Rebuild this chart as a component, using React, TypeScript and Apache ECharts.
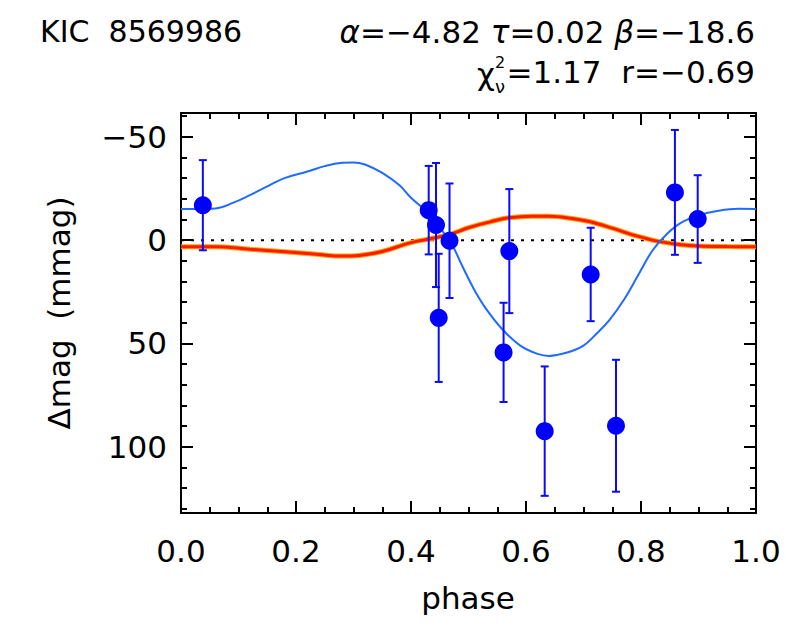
import React, { useEffect, useRef } from "react";
import * as echarts from "echarts";

// Observed points
const obsPhase = [0.038, 0.4308, 0.4435, 0.467, 0.4482, 0.571, 0.561, 0.6325, 0.7125, 0.7565, 0.859, 0.8986];
const obsMag = [-16.9, -14.5, -7.3, 0.3, 37.6, 5.3, 54.3, 92.4, 16.6, 89.8, -23.1, -10.2];
const obsErr = [21.8, 21.4, 30.0, 27.7, 31.0, 30.0, 24.0, 31.3, 22.6, 31.9, 30.2, 21.2];

// Blue model curve
const bluePhase = [0.0, 0.03, 0.06, 0.09, 0.12, 0.15, 0.18, 0.22, 0.25, 0.28, 0.3, 0.32, 0.35, 0.38, 0.4, 0.43, 0.45, 0.47, 0.49, 0.51, 0.53, 0.56, 0.59, 0.62, 0.64, 0.67, 0.7, 0.72, 0.745, 0.77, 0.795, 0.82, 0.845, 0.87, 0.9, 0.93, 0.97, 1.0];
const blueMag = [-15.0, -15.0, -15.3, -18.0, -21.8, -26.0, -30.0, -33.2, -35.8, -37.4, -37.6, -36.6, -32.5, -26.5, -20.5, -13.0, -6.0, 1.5, 13.0, 24.0, 33.0, 43.5, 51.0, 55.0, 56.0, 54.5, 51.0, 46.0, 38.7, 29.0, 17.0, 5.0, -3.0, -8.5, -12.0, -14.0, -15.2, -15.0];

// Red fitted curve
const redPhase = [0.0, 0.06, 0.12, 0.18, 0.24, 0.28, 0.31, 0.35, 0.4, 0.44, 0.47, 0.5, 0.54, 0.57, 0.61, 0.64, 0.68, 0.71, 0.75, 0.79, 0.83, 0.87, 0.9, 0.95, 1.0];
const redMag = [3.2, 3.2, 4.4, 5.6, 7.0, 7.7, 7.4, 5.5, 1.2, -1.0, -3.0, -6.0, -9.0, -10.8, -11.6, -11.6, -10.5, -9.0, -5.8, -2.2, 0.6, 2.2, 2.8, 3.1, 3.2];

const xTicks = [0, 0.2, 0.4, 0.6, 0.8, 1.0];
const yMajor = [-50, 0, 50, 100];
const yMinor = [-60, -40, -30, -20, -10, 10, 20, 30, 40, 60, 70, 80, 90, 110, 120, 130];

const FONT = "DejaVu Sans";
const Y_MIN = -61.5;
const Y_MAX = 132;

export default function App() {
  const ref = useRef<HTMLDivElement>(null);
  useEffect(() => {
    if (!ref.current) return;
    const chart = echarts.init(ref.current, undefined, { renderer: "svg" });
    const black = { color: "#000", width: 2 };
    const baseX = (pos: string, labels: boolean) => ({
      type: "value",
      position: pos,
      min: xTicks[0],
      max: xTicks[xTicks.length - 1],
      interval: 0.2,
      axisLine: { show: true, onZero: false, lineStyle: black },
      axisTick: { show: true, inside: true, length: 12, lineStyle: black },
      minorTick: { show: true, splitNumber: 4, length: 6, lineStyle: black },
      axisLabel: {
        show: labels,
        formatter: (v: number) => v.toFixed(1),
        fontSize: 31,
        fontFamily: FONT,
        color: "#000",
        margin: 22,
      },
      splitLine: { show: false },
      minorSplitLine: { show: false },
    });
    const baseY = (pos: string, labels: boolean, minor: boolean) => ({
      type: "value",
      position: pos,
      inverse: true,
      min: Y_MIN,
      max: Y_MAX,
      axisLine: { show: !minor, onZero: false, lineStyle: black },
      axisTick: {
        show: true,
        inside: true,
        length: minor ? 6 : 12,
        lineStyle: black,
        customValues: minor ? yMinor : yMajor,
      },
      axisLabel: {
        show: labels,
        customValues: yMajor,
        formatter: (v: number) => String(v).replace("-", "\u2212"),
        fontSize: 31,
        fontFamily: FONT,
        color: "#000",
        margin: 14,
      },
      splitLine: { show: false },
    });

    const errData = obsPhase.map((p, i) => [p, obsMag[i] - obsErr[i], obsMag[i] + obsErr[i]]);

    chart.setOption({
      animation: false,
      backgroundColor: "#fff",
      grid: { left: 181, right: 30, top: 113, bottom: 115 },
      xAxis: [baseX("bottom", true), baseX("top", false)],
      yAxis: [
        baseY("left", true, false),
        baseY("left", false, true),
        baseY("right", false, false),
        baseY("right", false, true),
      ],
      graphic: [
        {
          type: "text",
          x: 40,
          y: 31,
          style: { text: "KIC  8569986", fontSize: 30, fontFamily: FONT, fill: "#000", align: "left", verticalAlign: "middle" },
        },
        {
          type: "text",
          x: 755,
          y: 32,
          style: {
            text: "{i|\u03b1}=\u22124.82 {i|\u03c4}=0.02 {i|\u03b2}=\u221218.6",
            rich: { i: { fontStyle: "italic", fontSize: 31, fontFamily: FONT, fill: "#000" } },
            fontSize: 31,
            fontFamily: FONT,
            fill: "#000",
            align: "right",
            verticalAlign: "middle",
          },
        },
        {
          type: "text",
          x: 755,
          y: 72,
          style: { text: "=1.17  r=\u22120.69", fontSize: 31, fontFamily: FONT, fill: "#000", align: "right", verticalAlign: "middle" },
        },
        {
          type: "text",
          x: 495,
          y: 74,
          style: { text: "\u03c7", fontSize: 31, fontFamily: FONT, fill: "#000", align: "right", verticalAlign: "middle" },
        },
        {
          type: "text",
          x: 495,
          y: 62,
          style: { text: "2", fontSize: 16, fontFamily: FONT, fill: "#000", align: "left", verticalAlign: "middle" },
        },
        {
          type: "text",
          x: 495,
          y: 86,
          style: { text: "\u03bd", fontSize: 18, fontFamily: FONT, fill: "#000", align: "left", verticalAlign: "middle" },
        },
        {
          type: "text",
          x: 468,
          y: 598,
          style: { text: "phase", fontSize: 31, fontFamily: FONT, fill: "#000", align: "center", verticalAlign: "middle" },
        },
        {
          type: "text",
          x: 59,
          y: 313,
          rotation: Math.PI / 2,
          style: { text: "\u0394mag  (mmag)", fontSize: 31, fontFamily: FONT, fill: "#000", align: "center", verticalAlign: "middle" },
        },
      ],
      series: [
        {
          type: "line",
          data: [[0, 0], [1, 0]],
          symbol: "none",
          lineStyle: { color: "#000", width: 2, type: [3, 7] },
          silent: true,
          z: 1,
        },
        {
          type: "line",
          data: redPhase.map((p, i) => [p, redMag[i]]),
          symbol: "none",
          smooth: 0.4,
          lineStyle: { color: "#ffa500", width: 5 },
          silent: true,
          z: 2,
        },
        {
          type: "line",
          data: redPhase.map((p, i) => [p, redMag[i]]),
          symbol: "none",
          smooth: 0.4,
          lineStyle: { color: "#ff1a00", width: 3 },
          silent: true,
          z: 3,
        },
        {
          type: "line",
          data: bluePhase.map((p, i) => [p, blueMag[i]]),
          symbol: "none",
          smooth: 0.4,
          lineStyle: { color: "#1f6bff", width: 2 },
          silent: true,
          z: 4,
        },
        {
          type: "custom",
          data: errData,
          encode: { x: 0, y: [1, 2] },
          z: 5,
          renderItem: (params: any, api: any) => {
            const x = api.value(0);
            const p1 = api.coord([x, api.value(1)]);
            const p2 = api.coord([x, api.value(2)]);
            const st = { stroke: "#0a0aff", lineWidth: 2 };
            const h = 4;
            return {
              type: "group",
              children: [
                { type: "line", shape: { x1: p1[0], y1: p1[1], x2: p2[0], y2: p2[1] }, style: st },
                { type: "line", shape: { x1: p1[0] - h, y1: p1[1], x2: p1[0] + h, y2: p1[1] }, style: st },
                { type: "line", shape: { x1: p2[0] - h, y1: p2[1], x2: p2[0] + h, y2: p2[1] }, style: st },
              ],
            };
          },
        },
        {
          type: "scatter",
          data: obsPhase.map((p, i) => [p, obsMag[i]]),
          symbol: "circle",
          symbolSize: 18,
          itemStyle: { color: "#0000ff", opacity: 1 },
          z: 6,
        },
      ],
    });
    return () => chart.dispose();
  }, []);
  return (
    <div
      ref={ref}
      style={{ position: "fixed", left: 0, top: 0, width: 786, height: 628, background: "#fff" }}
    />
  );
}
